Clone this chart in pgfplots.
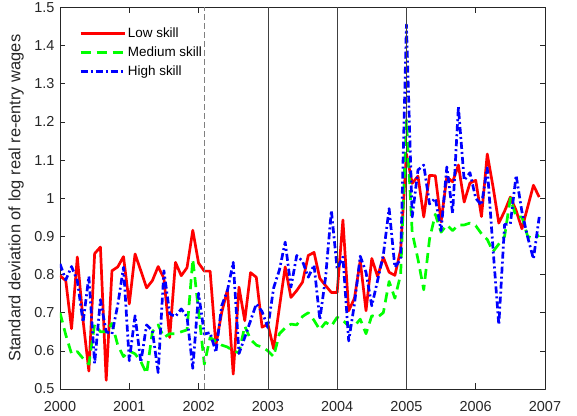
\documentclass[border=0pt]{standalone}
\usepackage{fontspec}
\setmainfont{Liberation Sans}
\usepackage{pgfplots}
\usepackage{pgfplotstable}
\pgfplotsset{compat=1.18}
\definecolor{mred}{RGB}{255,0,0}
\definecolor{mgreen}{RGB}{0,255,0}
\definecolor{mblue}{RGB}{0,0,255}
\definecolor{axgray}{RGB}{38,38,38}

\pgfplotstableread{
m low med high
0 0.797 0.700 0.828
1 0.784 0.642 0.786
2 0.658 0.592 0.821
3 0.846 0.598 0.784
4 0.679 0.580 0.675
5 0.547 0.565 0.795
6 0.855 0.670 0.567
7 0.872 0.650 0.734
8 0.523 0.650 0.650
9 0.810 0.672 0.644
10 0.820 0.615 0.720
11 0.847 0.585 0.819
12 0.723 0.600 0.574
13 0.854 0.592 0.692
14 0.810 0.572 0.570
15 0.765 0.540 0.668
16 0.784 0.650 0.653
17 0.821 0.668 0.543
18 0.790 0.635 0.810
19 0.635 0.645 0.697
20 0.832 0.645 0.690
21 0.797 0.650 0.710
22 0.818 0.655 0.689
23 0.916 0.840 0.554
24 0.830 0.705 0.751
25 0.809 0.565 0.644
26 0.809 0.635 0.648
27 0.615 0.625 0.596
28 0.700 0.615 0.718
29 0.760 0.610 0.758
30 0.539 0.600 0.832
31 0.767 0.595 0.593
32 0.679 0.665 0.635
33 0.805 0.630 0.679
34 0.793 0.615 0.723
35 0.662 0.610 0.703
36 0.670 0.600 0.661
37 0.606 0.585 0.765
38 0.714 0.645 0.812
39 0.820 0.660 0.885
40 0.740 0.670 0.767
41 0.758 0.668 0.850
42 0.780 0.690 0.835
43 0.850 0.700 0.793
44 0.858 0.680 0.825
45 0.790 0.655 0.682
46 0.771 0.675 0.793
47 0.753 0.665 0.968
48 0.753 0.688 0.815
49 0.943 0.680 0.846
50 0.705 0.665 0.626
51 0.738 0.665 0.723
52 0.836 0.683 0.848
53 0.705 0.645 0.806
54 0.842 0.692 0.718
55 0.795 0.688 0.784
56 0.845 0.700 0.852
57 0.806 0.782 0.973
58 0.798 0.738 0.819
59 0.865 0.800 0.840
60 1.116 1.205 1.455
61 1.039 0.910 0.951
62 1.058 0.840 1.074
63 0.951 0.760 1.087
64 1.060 0.893 0.985
65 1.059 0.958 1.000
66 0.938 0.911 0.915
67 1.056 0.930 1.082
68 1.043 0.915 0.960
69 1.087 0.930 1.240
70 0.990 0.930 1.047
71 1.040 0.935 1.067
72 1.047 0.928 1.000
73 0.952 0.907 0.982
74 1.116 0.892 1.080
75 1.030 0.860 0.867
76 0.935 0.880 0.668
77 0.966 0.900 0.931
78 1.003 1.000 0.933
79 0.968 0.951 1.060
80 0.920 0.951 0.965
81 0.977 0.900 0.898
82 1.034 0.894 0.841
83 1.003 0.903 0.951
}\wages

\begin{document}
\begin{tikzpicture}
\useasboundingbox (-60bp,-27bp) rectangle (517bp,389bp);
\begin{axis}[
  at={(0,0)}, anchor=south west,
  scale only axis, width=485bp, height=381.5bp,
  xmin=0, xmax=84, ymin=0.5, ymax=1.5,
  xtick={0,12,24,36,48,60,72,84},
  xticklabels={2000,2001,2002,2003,2004,2005,2006,2007},
  ytick={0.5,0.6,0.7,0.8,0.9,1.0,1.1,1.2,1.3,1.4,1.5},
  yticklabels={0.5,0.6,0.7,0.8,0.9,1,1.1,1.2,1.3,1.4,1.5},
  tick align=inside, major tick length=5.5bp, minor tick num=0,
  axis line style={axgray, line width=0.6bp},
  every tick/.style={axgray, line width=0.6bp},
  tick label style={font=\fontsize{14.5}{17}\selectfont, text=axgray},
  xticklabel style={yshift=-9bp},
  yticklabel style={xshift=-2bp},
  ylabel={Standard deviation of log real re-entry wages},
  every axis y label/.style={at={(axis description cs:-0.0907,0.5)}, rotate=90, anchor=center, font=\fontsize{16.5}{19}\selectfont, text=axgray},
  legend style={draw=none, fill=none, at={(axis description cs:0,1)}, anchor=north west, xshift=19bp, yshift=-18.5bp, inner sep=0pt, font=\fontsize{13.5}{16}\selectfont, text=black, row sep=3.5bp, nodes={inner sep=2bp}},
  legend cell align=left,
  legend image code/.code={\draw[#1] (0bp,0bp) -- (44bp,0bp);},
  line join=round,
]
\addplot[mred, line width=2.7bp] table[x=m, y=low] {\wages};
\addlegendentry{Low skill}
\addplot[mgreen, line width=2.7bp, dash pattern=on 10bp off 6bp] table[x=m, y=med] {\wages};
\addlegendentry{Medium skill}
\addplot[mblue, line width=2.7bp, dash pattern=on 7bp off 3bp on 2bp off 3bp] table[x=m, y=high] {\wages};
\addlegendentry{High skill}
\addplot[forget plot, gray, line width=0.8bp, dash pattern=on 6bp off 3bp] coordinates {(25,0.5) (25,1.5)};
\addplot[forget plot, black!75, line width=0.6bp] coordinates {(36,0.5) (36,1.5)};
\addplot[forget plot, black!75, line width=0.6bp] coordinates {(48,0.5) (48,1.5)};
\addplot[forget plot, black!75, line width=0.6bp] coordinates {(60,0.5) (60,1.5)};
\end{axis}
\end{tikzpicture}
\end{document}
